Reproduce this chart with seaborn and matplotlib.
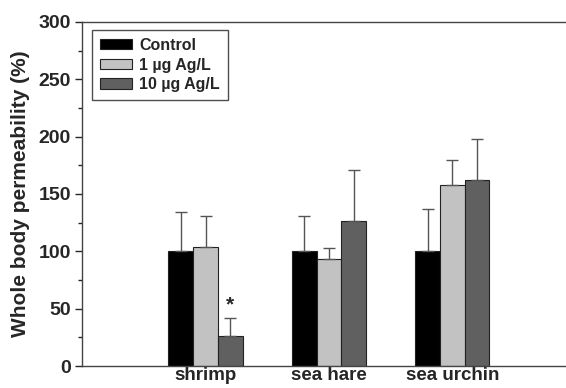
import matplotlib
matplotlib.use("Agg")
import matplotlib.pyplot as plt
import seaborn as sns
import pandas as pd
from matplotlib.patches import Patch
from matplotlib.ticker import MultipleLocator

species = ["shrimp", "sea hare", "sea urchin"]
treatments = ["Control", "1 \u00b5g Ag/L", "10 \u00b5g Ag/L"]
control = [100, 100, 100]
low_ag = [104, 93, 158]
high_ag = [26, 126, 162]
control_err = [34, 31, 37]
low_ag_err = [27, 10, 22]
high_ag_err = [16, 45, 36]
colors = ["#000000", "#c2c2c2", "#606060"]

sns.set_style("ticks")
plt.rcParams["font.family"] = ["Liberation Sans", "DejaVu Sans"]
plt.rcParams["font.weight"] = "bold"

rows = []
for vals, errs, t in [(control, control_err, treatments[0]),
                      (low_ag, low_ag_err, treatments[1]),
                      (high_ag, high_ag_err, treatments[2])]:
    for s, v, e in zip(species, vals, errs):
        rows.append({"species": s, "treatment": t, "value": v, "err": e})
df = pd.DataFrame(rows)

fig = plt.figure(figsize=(5.66, 3.88), dpi=100)
ax = fig.add_axes([0.145, 0.0567, 0.855, 0.887])

sns.barplot(data=df, x="species", y="value", hue="treatment", order=species,
            hue_order=treatments, palette=colors, width=0.6, errorbar=None,
            edgecolor="#222222", linewidth=0.8, ax=ax, legend=False)

# upward-only error bars
for t_i, t in enumerate(treatments):
    cont = ax.containers[t_i]
    sub = df[df.treatment == t].set_index("species").loc[species]
    for bar, v, e in zip(cont, sub["value"], sub["err"]):
        xc = bar.get_x() + bar.get_width() / 2
        ax.errorbar(xc, v, yerr=[[0], [e]], fmt="none", ecolor="#555555",
                    elinewidth=1.0, capsize=4, capthick=1.0, zorder=1)

# significance star on shrimp 10 ug
b = ax.containers[2][0]
ax.text(b.get_x() + b.get_width() / 2, high_ag[0] + high_ag_err[0] + 3, "*",
        ha="center", va="bottom", fontsize=15, fontweight="bold")

ax.set_ylim(0, 300)
ax.set_xlim(-1.0, 2.92)
ax.yaxis.set_major_locator(MultipleLocator(50))
ax.yaxis.set_minor_locator(MultipleLocator(25))
ax.tick_params(axis="y", which="major", labelsize=14, length=5, width=1, pad=3)
ax.tick_params(axis="y", which="minor", length=3, width=1)
ax.tick_params(axis="x", length=0, labelsize=13.5, pad=1)
for lbl in ax.get_xticklabels() + ax.get_yticklabels():
    lbl.set_fontweight("bold")
ax.set_xlabel("")
ax.set_ylabel("Whole body permeability (%)", fontsize=15, fontweight="bold", labelpad=6)
for side in ["left", "bottom", "top"]:
    ax.spines[side].set_visible(True)
    ax.spines[side].set_color("#444444")
    ax.spines[side].set_linewidth(1.0)
ax.spines["right"].set_visible(False)

handles = [Patch(facecolor=c, edgecolor="#222222", linewidth=0.8) for c in colors]
leg = ax.legend(handles, treatments, loc="upper left", bbox_to_anchor=(0.021, 0.977),
                borderaxespad=0, frameon=True, fancybox=False, edgecolor="#222222",
                prop={"weight": "bold", "size": 11.5}, handlelength=2.0,
                handleheight=0.65, labelspacing=0.3, borderpad=0.5,
                handletextpad=0.45)
leg.get_frame().set_linewidth(1.0)

fig.savefig("out.png", dpi=100)
